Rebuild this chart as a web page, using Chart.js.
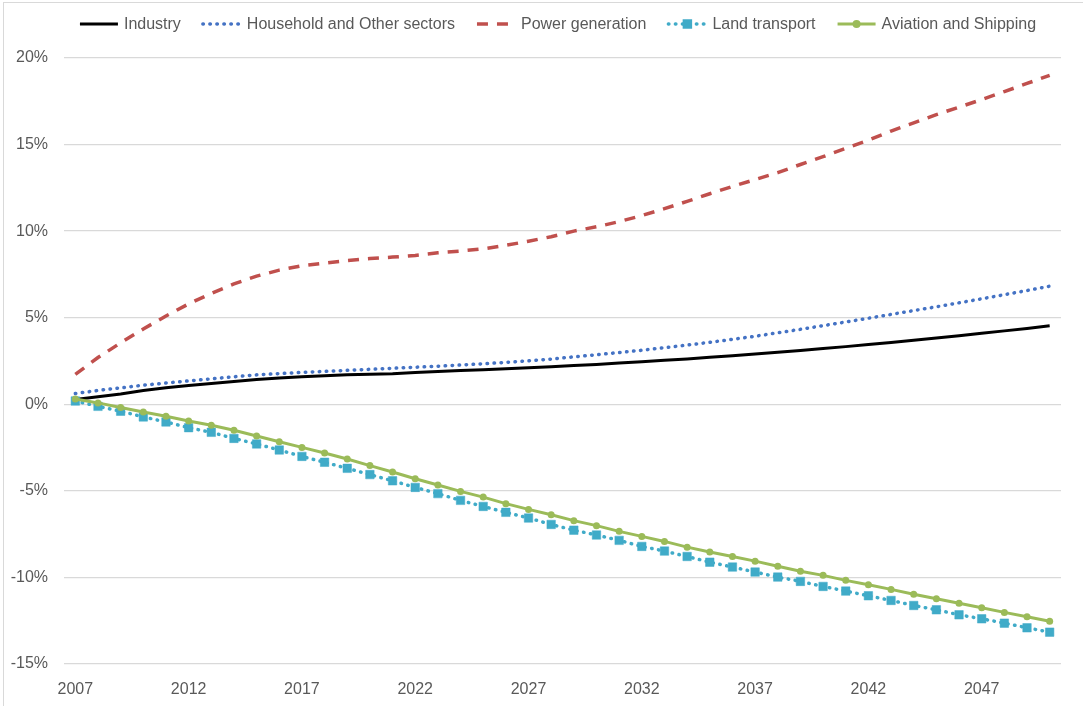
<!DOCTYPE html>
<html>
<head>
<meta charset="utf-8">
<script src="https://cdn.jsdelivr.net/npm/chart.js@4.4.1/dist/chart.umd.min.js"></script>
<style>
  html, body { margin: 0; padding: 0; background: #fff; overflow: hidden; }
  #frame {
    position: absolute; left: 3px; top: 2px;
    width: 1080px; height: 704px;
    border-left: 1px solid #d9d9d9; border-top: 1px solid #d9d9d9;
  }
  canvas { display: block; }
</style>
</head>
<body>
<div id="frame"><canvas id="grafico" width="1079" height="703"></canvas></div>
<script>
// Anos (categorias)
const anos = [2007, 2008, 2009, 2010, 2011, 2012, 2013, 2014, 2015, 2016, 2017,
  2018, 2019, 2020, 2021, 2022, 2023, 2024, 2025, 2026, 2027, 2028,
  2029, 2030, 2031, 2032, 2033, 2034, 2035, 2036, 2037, 2038, 2039,
  2040, 2041, 2042, 2043, 2044, 2045, 2046, 2047, 2048, 2049, 2050];

// Valores em %
const industria = [0.27, 0.44, 0.60, 0.80, 0.95, 1.08, 1.20, 1.32, 1.43, 1.52, 1.59,
  1.65, 1.70, 1.74, 1.77, 1.83, 1.89, 1.95, 2.00, 2.05, 2.11, 2.17,
  2.24, 2.30, 2.38, 2.46, 2.54, 2.62, 2.71, 2.80, 2.90, 3.00, 3.11,
  3.22, 3.33, 3.45, 3.57, 3.70, 3.83, 3.96, 4.10, 4.24, 4.38, 4.53];

const residencial = [0.62, 0.80, 0.95, 1.10, 1.23, 1.35, 1.47, 1.59, 1.70, 1.77, 1.84,
  1.90, 1.96, 2.02, 2.08, 2.14, 2.20, 2.27, 2.34, 2.42, 2.51, 2.61,
  2.74, 2.86, 2.99, 3.12, 3.27, 3.42, 3.58, 3.75, 3.93, 4.13, 4.33,
  4.54, 4.75, 4.97, 5.19, 5.41, 5.63, 5.86, 6.09, 6.33, 6.57, 6.82];

const energia = [1.73, 2.70, 3.55, 4.35, 5.10, 5.80, 6.40, 6.95, 7.40, 7.75, 8.00,
  8.15, 8.30, 8.42, 8.50, 8.60, 8.75, 8.85, 8.98, 9.18, 9.42, 9.68,
  10.00, 10.25, 10.55, 10.90, 11.30, 11.72, 12.16, 12.58, 12.98, 13.38, 13.85,
  14.30, 14.78, 15.25, 15.78, 16.25, 16.73, 17.16, 17.60, 18.06, 18.53, 19.00];

const transporte = [0.19, -0.12, -0.40, -0.73, -1.02, -1.35, -1.62, -1.97, -2.29, -2.64, -3.01,
  -3.35, -3.70, -4.06, -4.42, -4.80, -5.16, -5.55, -5.90, -6.24, -6.57, -6.94,
  -7.27, -7.55, -7.86, -8.21, -8.48, -8.79, -9.12, -9.40, -9.69, -9.98, -10.23,
  -10.52, -10.79, -11.06, -11.33, -11.62, -11.87, -12.16, -12.39, -12.64, -12.91, -13.16];

const aviacao = [0.30, 0.08, -0.19, -0.44, -0.69, -0.96, -1.21, -1.50, -1.83, -2.16, -2.49,
  -2.81, -3.16, -3.54, -3.91, -4.30, -4.66, -5.03, -5.36, -5.74, -6.07, -6.38,
  -6.72, -7.01, -7.34, -7.63, -7.92, -8.25, -8.53, -8.79, -9.06, -9.35, -9.64,
  -9.88, -10.17, -10.42, -10.69, -10.97, -11.23, -11.49, -11.75, -12.02, -12.27, -12.53];

const FONTE = '"Liberation Sans", Arial, sans-serif';
const CINZA = '#595959';

// Legenda desenhada no estilo do Excel (linha + marcador)
const legendaExcel = {
  id: 'legendaExcel',
  afterDraw(chart) {
    const ctx = chart.ctx;
    ctx.save();
    ctx.font = '16px ' + FONTE;
    const amostra = 40, folga = 5, espaco = 21;
    const itens = chart.data.datasets.map(ds => ({ ds, w: amostra + folga + ctx.measureText(ds.label).width }));
    const total = itens.reduce((s, i) => s + i.w, 0) + espaco * (itens.length - 1);
    let x = 553.5 - total / 2;
    const y = 21;
    itens.forEach(({ ds, w }) => {
      ctx.strokeStyle = ds.borderColor;
      ctx.lineWidth = ds.borderWidth;
      ctx.lineCap = ds.borderCapStyle || 'butt';
      ctx.setLineDash(ds.borderDash || []);
      ctx.beginPath();
      ctx.moveTo(x + 1, y);
      ctx.lineTo(x + amostra - 1, y);
      ctx.stroke();
      ctx.setLineDash([]);
      if (ds.pointRadius > 0) {
        ctx.fillStyle = ds.pointBackgroundColor;
        ctx.beginPath();
        if (ds.pointStyle === 'rect') {
          const s = ds.pointRadius * Math.SQRT1_2 + 0.5;
          ctx.rect(x + amostra / 2 - s, y - s, 2 * s, 2 * s);
        } else {
          ctx.arc(x + amostra / 2, y, ds.pointRadius + 0.5, 0, Math.PI * 2);
        }
        ctx.fill();
      }
      ctx.fillStyle = CINZA;
      ctx.textBaseline = 'middle';
      ctx.textAlign = 'left';
      ctx.fillText(ds.label, x + amostra + folga, y + 1);
      x += w + espaco;
    });
    ctx.restore();
  }
};

new Chart(document.getElementById('grafico').getContext('2d'), {
  type: 'line',
  data: {
    labels: anos,
    datasets: [
      {
        label: 'Industry', data: industria, order: 5,
        borderColor: '#000000', borderWidth: 3, pointRadius: 0,
        tension: 0
      },
      {
        label: 'Household and Other sectors', data: residencial, order: 4,
        borderColor: '#4472C4', borderWidth: 3.5, borderDash: [0.5, 6.5], borderCapStyle: 'round',
        pointRadius: 0
      },
      {
        label: 'Power generation', data: energia, order: 3,
        borderColor: '#C0504D', borderWidth: 3.5, borderDash: [11, 9],
        pointRadius: 0
      },
      {
        label: 'Land transport', data: transporte, order: 2,
        borderColor: '#40ABC8', borderWidth: 3.5, borderDash: [0.5, 6.5], borderCapStyle: 'round',
        pointStyle: 'rect', pointRadius: 6, pointBorderWidth: 0.5,
        pointBackgroundColor: '#40ABC8', pointBorderColor: '#40ABC8'
      },
      {
        label: 'Aviation and Shipping', data: aviacao, order: 1,
        borderColor: '#9BBB59', borderWidth: 3,
        pointStyle: 'circle', pointRadius: 3.5, pointBorderWidth: 0,
        pointBackgroundColor: '#9BBB59', pointBorderColor: '#9BBB59'
      }
    ]
  },
  options: {
    responsive: false,
    animation: false,
    devicePixelRatio: 1,
    layout: { padding: { left: 0, right: 22, top: 55, bottom: 0 } },
    plugins: { legend: { display: false }, tooltip: { enabled: false } },
    scales: {
      x: {
        offset: true,
        grid: { display: false },
        border: { display: false },
        afterFit: s => { s.height = 42; },
        ticks: {
          autoSkip: false, maxRotation: 0, padding: 8,
          color: CINZA, font: { family: FONTE, size: 16 },
          callback: function (v, i) { return i % 5 === 0 ? this.getLabelForValue(v) : ''; }
        }
      },
      y: {
        min: -15, max: 20,
        grid: { color: '#D9D9D9', lineWidth: 1.3, drawTicks: false },
        border: { display: false },
        afterFit: s => { s.width = 60; },
        ticks: {
          stepSize: 5, padding: 16,
          color: CINZA, font: { family: FONTE, size: 16 },
          callback: v => v + '%'
        }
      }
    }
  },
  plugins: [legendaExcel]
});
</script>
</body>
</html>
